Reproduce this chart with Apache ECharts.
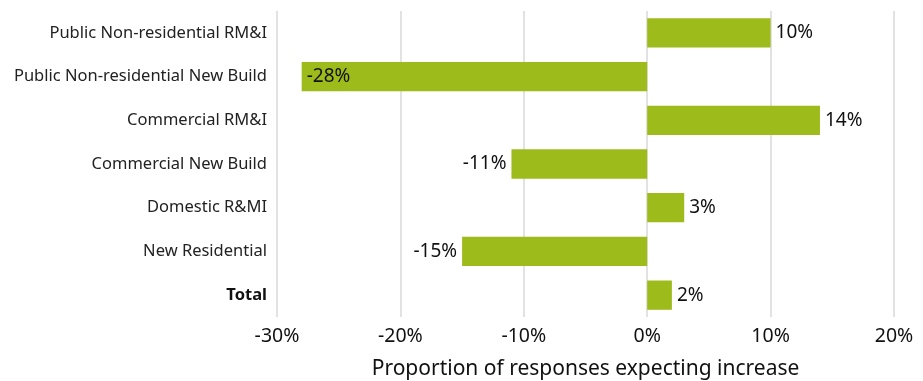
<!DOCTYPE html>
<html><head><meta charset="utf-8">
<script src="https://cdn.jsdelivr.net/npm/echarts@6/dist/echarts.min.js"></script>
<style>html,body{margin:0;padding:0;background:#fff}#c{width:923px;height:381px}</style>
</head><body><div id="c"></div>
<script>
const categories = ["Public Non-residential RM&I","Public Non-residential New Build","Commercial RM&I","Commercial New Build","Domestic R&MI","New Residential","Total"];
const values = [10, -28, 14, -11, 3, -15, 2];
const tickMin = -30, tickMax = 20, tickStep = 10;
const axisTitle = "Proportion of responses expecting increase";
const FONT = "Noto Sans";
const chart = echarts.init(document.getElementById('c'));
chart.setOption({
  animation:false,
  textStyle:{fontFamily:FONT},
  grid:{left:277,right:29,top:11,bottom:64,containLabel:false,outerBoundsMode:'none'},
  xAxis:{type:'value',min:tickMin,max:tickMax,interval:tickStep,
    axisLabel:{formatter:v=>v+'%',fontSize:19.5,color:'#111',margin:9,fontFamily:FONT},
    axisLine:{show:false},axisTick:{show:false},
    splitLine:{lineStyle:{color:'#d9d9d9',width:1.5}},
    name:axisTitle,nameLocation:'middle',nameGap:42,
    nameTextStyle:{fontSize:21,color:'#111',fontFamily:FONT}},
  yAxis:{type:'category',data:categories,inverse:true,
    axisLine:{show:false},axisTick:{show:false},
    axisLabel:{fontSize:16.5,color:'#222',margin:10,fontFamily:FONT,
      formatter:v=>v==='Total'?'{b|'+v+'}':v,rich:{b:{fontWeight:'bold',fontSize:16.5,color:'#111',fontFamily:FONT}}}},
  series:[{type:'bar',barCategoryGap:'33%',
    itemStyle:{color:'#9ebb1c'},
    data:values.map(v=>({value:v,label:{position: v<-20?'insideLeft':(v<0?'left':'right')}})),
    label:{show:true,formatter:p=>p.value+'%',fontSize:19,color:'#111',distance:5,fontFamily:FONT}
  }]
});
</script></body></html>
